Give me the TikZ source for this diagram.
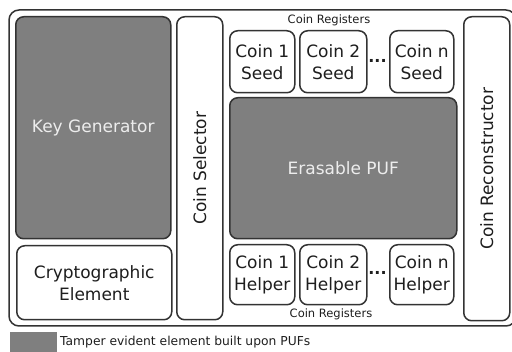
\documentclass[tikz,border=0pt]{standalone}
\usepackage{fontspec}
\setmainfont{DejaVu Sans}
\definecolor{edge}{HTML}{333333}
\definecolor{puf}{HTML}{7F7F7F}
\definecolor{ink}{HTML}{1E1E1E}
\begin{document}
\begin{tikzpicture}[x=1pt,y=-1pt,
  blk/.style={draw=edge, line width=1.5pt, rounded corners=8pt, anchor=north west,
    inner sep=0pt, align=center, text=ink,
    font=\fontsize{17}{22}\selectfont},
  wbox/.style={blk, fill=white},
  gbox/.style={blk, fill=puf, text=white!93!black},
  small/.style={font=\fontsize{11.5}{13}\selectfont, text=ink, inner sep=0pt}
]
\useasboundingbox (0,0) rectangle (512,352);
\clip (0,0) rectangle (512,352);
\fill[white] (0,0) rectangle (512,352);

% enclosing module
\draw[edge, line width=1.5pt, rounded corners=10pt] (9,10) rectangle (516,326);

% left column
\node[gbox, minimum width=155pt, minimum height=222pt] (kg) at (15,16) {Key Generator};
\node[wbox, minimum width=155pt, minimum height=74pt] (ce) at (16,245) {Cryptographic\\Element};

% selector and reconstructor bars
\node[wbox, minimum width=46pt, minimum height=303pt] (cs) at (176,16) {};
\node[rotate=90, font=\fontsize{17}{22}\selectfont, text=ink] (cst) at (cs.center) {Coin Selector};
\node[wbox, minimum width=46pt, minimum height=304pt] (cr) at (463,16) {};
\node[rotate=90, font=\fontsize{17}{22}\selectfont, text=ink] (crt) at (cr.center) {Coin Reconstructor};

% seed registers
\node[wbox, minimum width=65pt, minimum height=62pt] (s1) at (229,30) {Coin 1\\Seed};
\node[wbox, minimum width=67pt, minimum height=62pt] (s2) at (299,30) {Coin 2\\Seed};
\node[wbox, minimum width=64pt, minimum height=62pt] (sn) at (389,30) {Coin n\\Seed};
\node[font=\fontsize{16}{22}\selectfont\bfseries, text=ink, inner sep=0pt] (sd) at (377.5,61) {...};

% erasable PUF
\node[gbox, minimum width=227pt, minimum height=141pt] (puf) at (229,97) {Erasable PUF};

% helper registers
\node[wbox, minimum width=65pt, minimum height=60pt] (h1) at (229,244) {Coin 1\\Helper};
\node[wbox, minimum width=67pt, minimum height=60pt] (h2) at (299,244) {Coin 2\\Helper};
\node[wbox, minimum width=64pt, minimum height=60pt] (hn) at (389,244) {Coin n\\Helper};
\node[font=\fontsize{16}{22}\selectfont\bfseries, text=ink, inner sep=0pt] (hd) at (377.5,273) {...};

% register captions
\node[small] (rt) at (329,20) {Coin Registers};
\node[small] (rb) at (331,314) {Coin Registers};

% legend
\fill[puf] (10,332) rectangle (57,354);
\node[font=\fontsize{12.3}{14}\selectfont, text=ink, inner sep=0pt, anchor=west] (lg) at (60,342) {Tamper evident element built upon PUFs};
\end{tikzpicture}
\end{document}
